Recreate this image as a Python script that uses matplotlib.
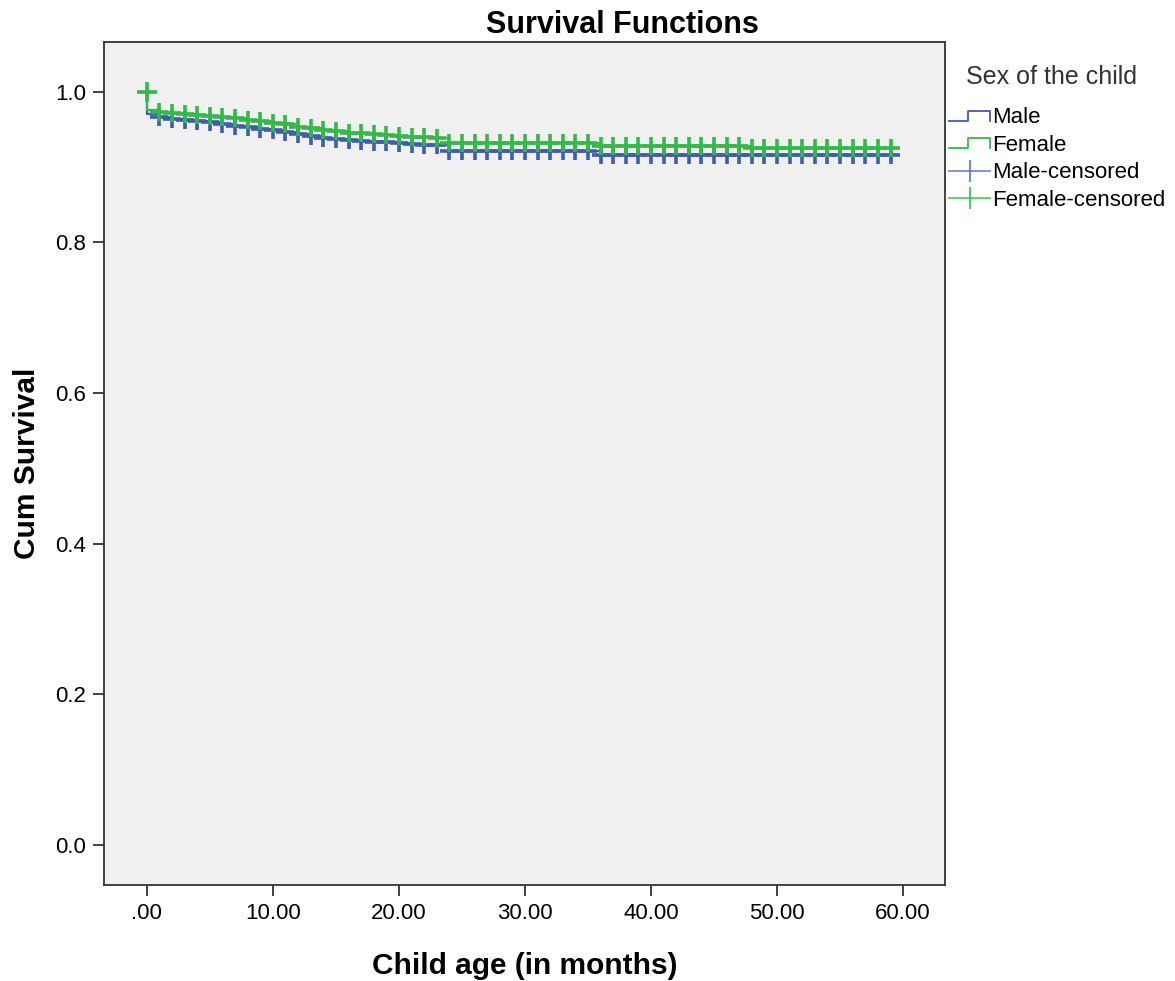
import numpy as np
import matplotlib.pyplot as plt
from matplotlib.legend_handler import HandlerBase
from matplotlib.lines import Line2D

plt.rcParams['font.family'] = ['Liberation Sans', 'DejaVu Sans']

# step times (months) and survival after each step
male_t = [0, 1, 2, 3, 4, 5, 6, 7, 8, 9, 10, 11, 12, 13, 14, 15, 16, 17, 18, 19, 20, 21, 22, 24, 36]
male_s = [0.970, 0.966, 0.964, 0.963, 0.962, 0.960, 0.957, 0.955, 0.953, 0.951, 0.950, 0.947,
          0.944, 0.941, 0.939, 0.937, 0.936, 0.935, 0.934, 0.933, 0.932, 0.931, 0.930, 0.922, 0.916]
female_t = [0, 1, 2, 3, 4, 5, 6, 7, 8, 9, 10, 11, 12, 13, 14, 15, 16, 17, 18, 19, 20, 21, 23, 24, 36, 48]
female_s = [0.976, 0.973, 0.972, 0.971, 0.969, 0.968, 0.966, 0.965, 0.963, 0.961, 0.959, 0.957,
            0.954, 0.952, 0.950, 0.948, 0.946, 0.945, 0.944, 0.943, 0.941, 0.940, 0.939, 0.932,
            0.928, 0.926]
male_cens = list(range(1, 60))
female_cens = list(range(1, 60))
female_cens0 = [0]  # censored mark at start, still at 1.0
t_end = 59.4

blue = "#3f5cb0"
green = "#35b84a"


def surv_at(times, surv, x):
    idx = np.searchsorted(times, x, side="right") - 1
    s = np.array([1.0] + surv)
    return s[idx + 1]


class StepHandler(HandlerBase):
    def create_artists(self, legend, orig, xd, yd, w, h, fontsize, trans):
        xs = [xd, xd + w * 0.45, xd + w * 0.45, xd + w, xd + w]
        ys = [yd + h * 0.15, yd + h * 0.15, yd + h * 0.8, yd + h * 0.8, yd + h * 0.15]
        ln = Line2D(xs, ys, color=orig.get_color(), lw=1.3, transform=trans)
        return [ln]


fig = plt.figure(figsize=(11.75, 9.81), dpi=100)
ax = fig.add_axes([0.0885, 0.098, 0.7155, 0.859])
ax.set_facecolor("#f0f0f0")

handles = []
for times, surv, col, name in [(male_t, male_s, blue, "Male"),
                               (female_t, female_s, green, "Female")]:
    xs = [0] + times + [t_end]
    ys = [1.0] + surv + [surv[-1]]
    l, = ax.step(xs, ys, where="post", color=col, lw=1.6, label=name)
    handles.append(l)
for times, surv, cens, col, name in [(male_t, male_s, male_cens, blue, "Male-censored"),
                                     (female_t, female_s, female_cens, green, "Female-censored")]:
    cy = surv_at(times, surv, np.array(cens, dtype=float))
    m, = ax.plot(cens, cy, "+", color=col, ms=13, mew=2.6, label=name)
    handles.append(m)
ax.plot(female_cens0, [1.0], "+", color=green, ms=15, mew=2.6)

ax.set_xlim(-3.4, 63.3)
ax.set_ylim(-0.053, 1.066)
ax.set_xticks([0, 10, 20, 30, 40, 50, 60])
ax.set_xticklabels([".00", "10.00", "20.00", "30.00", "40.00", "50.00", "60.00"])
ax.set_yticks([0, 0.2, 0.4, 0.6, 0.8, 1.0])
ax.set_yticklabels(["0.0", "0.2", "0.4", "0.6", "0.8", "1.0"])
ax.tick_params(labelsize=16, length=8, width=1.3, color="#333333", pad=5)
for sp in ax.spines.values():
    sp.set_color("#333333")
    sp.set_linewidth(1.3)

fig.text(622 / 1175, 1 - 25 / 981, "Survival Functions", fontsize=22, fontweight="bold",
         ha="center", va="center")
ax.set_xlabel("Child age (in months)", fontsize=21.5, fontweight="bold", labelpad=20)
ax.set_ylabel("Cum Survival", fontsize=21.5, fontweight="bold", labelpad=10)

# legend title drawn on its own, as in the original layout
fig.text(966 / 1175, 1 - 77 / 981, "Sex of the child", fontsize=18, color="#333333",
         ha="left", va="center")
leg_handles = [handles[0], handles[1],
               Line2D([], [], color=blue, lw=1.3, marker="|", ms=16, mew=1.5, alpha=0.7),
               Line2D([], [], color=green, lw=1.3, marker="|", ms=16, mew=1.5, alpha=0.8)]
leg = fig.legend(leg_handles, ["Male", "Female", "Male-censored", "Female-censored"],
                 loc="upper left", bbox_to_anchor=(949 / 1175, 1 - 107 / 981), frameon=False,
                 fontsize=16, handlelength=1.85, handletextpad=0.1, labelspacing=0.3,
                 borderaxespad=0, borderpad=0,
                 handler_map={handles[0]: StepHandler(), handles[1]: StepHandler()})

fig.savefig("out.png", dpi=100)
